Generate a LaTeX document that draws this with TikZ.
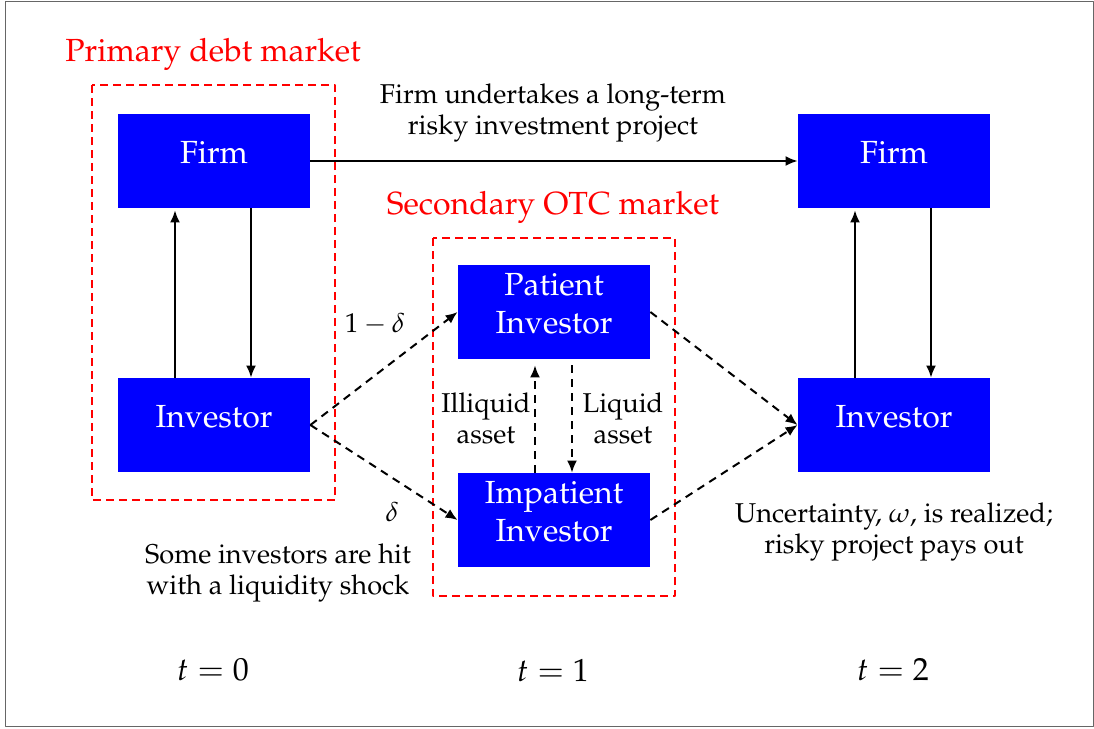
\documentclass[tikz,border=0pt]{standalone}
\usepackage[T1]{fontenc}
\usepackage{mathpazo}
\usetikzlibrary{positioning,arrows.meta}
\begin{document}
\begin{tikzpicture}[x=0.5pt,y=-0.5pt,>={Latex[length=6pt,width=5pt]},line join=round,
    agent/.style={fill=blue,text=white,minimum width=96pt,minimum height=47pt,inner sep=0pt,text depth=9pt,align=center,font=\fontsize{16}{19}\selectfont},
    market/.style={draw=red,line width=1pt,dash pattern=on 4pt off 2.5pt},
    title/.style={text=red,font=\fontsize{16}{19}\selectfont},
    note/.style={align=center,font=\fontsize{13.6}{15.5}\selectfont},
    flow/.style={->,line width=1pt},
    move/.style={->,line width=1pt,dash pattern=on 4pt off 3pt}]
    \useasboundingbox (0,0) rectangle (1094,729);
    \draw[gray!80!black] (5,1) rectangle (1093,726);
    % Markets
    \draw[market] (92,85) rectangle (335,500);
    \draw[market] (433,238) rectangle (675,596);
    \node[title] (primary) at (213,54) {Primary debt market};
    \node[title] (secondary) at (553,207) {Secondary OTC market};
    % Agents
    \node[agent] (firm0) at (214,161) {Firm};
    \node[agent] (inv0) at (214,425) {Investor};
    \node[agent] (patient) at (554,312) {Patient\\Investor};
    \node[agent] (impatient) at (554,520) {Impatient\\Investor};
    \node[agent] (firm2) at (894,161) {Firm};
    \node[agent] (inv2) at (894,425) {Investor};
    % Flows
    \draw[flow] (firm0) -- (firm2);
    \draw[flow] ([xshift=-19.5pt]inv0.north) -- ([xshift=-19.5pt,yshift=-1pt]firm0.south);
    \draw[flow] ([xshift=18.5pt]firm0.south) -- ([xshift=18.5pt]inv0.north);
    \draw[flow] ([xshift=-19.5pt]inv2.north) -- ([xshift=-19.5pt,yshift=-1pt]firm2.south);
    \draw[flow] ([xshift=18.5pt]firm2.south) -- ([xshift=18.5pt]inv2.north);
    \draw[move] (inv0.east) -- (patient.west);
    \draw[move] (inv0.east) -- (impatient.west);
    \draw[move] ([xshift=-9.5pt]impatient.north) -- ([xshift=-9.5pt,yshift=-3pt]patient.south);
    \draw[move] ([xshift=9pt,yshift=-3pt]patient.south) -- ([xshift=9pt]impatient.north);
    \draw[move] (patient.east) -- (inv2.west);
    \draw[move] (impatient.east) -- (inv2.west);
    % Labels
    \node[note] (invest) at (553,113) {Firm undertakes a long-term\\risky investment project};
    \node[note] (prob1) at (375,324) {$1-\delta$};
    \node[note] (prob2) at (392,512) {$\delta$};
    \node[note] (illiquid) at (486,418) {Illiquid\\asset};
    \node[note] (liquid) at (623,418) {Liquid\\asset};
    \node[note] (shock) at (278,573) {Some investors are hit\\with a liquidity shock};
    \node[note] (payout) at (894,532) {Uncertainty, $\omega$, is realized;\\risky project pays out};
    % Dates
    \node[title,text=black] (t0) at (213,670) {$t=0$};
    \node[title,text=black] (t1) at (553,670) {$t=1$};
    \node[title,text=black] (t2) at (893,670) {$t=2$};
\end{tikzpicture}
\end{document}
